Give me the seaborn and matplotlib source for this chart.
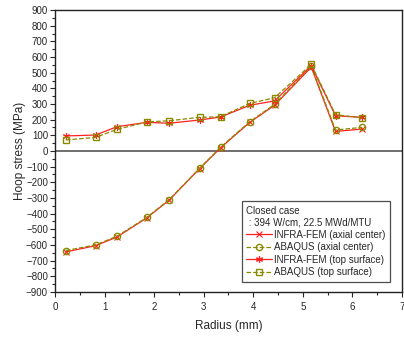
import numpy as np
import pandas as pd
import matplotlib
matplotlib.use('Agg')
import matplotlib.pyplot as plt
from matplotlib.ticker import MultipleLocator
import seaborn as sns

# ── Data ──────────────────────────────────────────────────────────────────────
radius = [0.22, 0.82, 1.25, 1.85, 2.30, 2.92, 3.34, 3.93, 4.43, 5.17, 5.66, 6.20]

infra_axial  = [-645, -605, -550, -428, -315, -112, 20, 183, 292, 535, 125, 140]
abaqus_axial = [-636, -600, -545, -425, -312, -110, 24, 187, 298, 542, 134, 151]
infra_top    = [96, 102, 155, 183, 177, 198, 217, 292, 320, 545, 225, 215]
abaqus_top   = [70, 87, 138, 185, 193, 215, 219, 304, 340, 553, 232, 211]

series_names = ['INFRA-FEM (axial center)', 'ABAQUS (axial center)',
                'INFRA-FEM (top surface)', 'ABAQUS (top surface)']
series_vals  = [infra_axial, abaqus_axial, infra_top, abaqus_top]

RED   = '#ff2020'
OLIVE = '#8a8a00'
styles = {
    'INFRA-FEM (axial center)': dict(color=RED,   marker='x', linestyle='-',  ms=4.5, mew=0.8),
    'ABAQUS (axial center)':    dict(color=OLIVE, marker='o', linestyle='--', ms=4.5, mew=1.0),
    'INFRA-FEM (top surface)':  dict(color=RED,   marker=(6, 2, 0), linestyle='-', ms=5, mew=0.8),
    'ABAQUS (top surface)':     dict(color=OLIVE, marker='s', linestyle='--', ms=4.5, mew=1.0),
}

df = pd.concat([pd.DataFrame({'Radius': radius, 'Stress': v, 'Series': n})
                for n, v in zip(series_names, series_vals)], ignore_index=True)

sns.set_style('ticks')
plt.rcParams['font.family'] = ['Liberation Sans', 'DejaVu Sans']

fig = plt.figure(figsize=(4.04, 3.37), dpi=100)
ax = fig.add_axes([0.136, 0.134, 0.859, 0.836])

for name in series_names:
    st = styles[name]
    sub = df[df['Series'] == name]
    sns.lineplot(data=sub, x='Radius', y='Stress', ax=ax, sort=False,
                 color=st['color'], linestyle=st['linestyle'], linewidth=0.9,
                 dashes=False if st['linestyle'] == '-' else (3, 1.5),
                 marker=st['marker'], markersize=st['ms'],
                 markerfacecolor='none', markeredgecolor=st['color'],
                 markeredgewidth=st['mew'], label=name)

ax.axhline(0, color='#555555', lw=1.2, zorder=0)

ax.set_xlim(0, 7)
ax.set_ylim(-900, 900)
ax.xaxis.set_major_locator(MultipleLocator(1))
ax.xaxis.set_minor_locator(MultipleLocator(0.5))
ax.yaxis.set_major_locator(MultipleLocator(100))
ax.yaxis.set_minor_locator(MultipleLocator(50))
ax.tick_params(which='major', length=3.5, width=0.8, labelsize=7, direction='out')
ax.tick_params(which='minor', length=2, width=0.8, direction='out')
ax.tick_params(axis='y', pad=1.5)
for s in ax.spines.values():
    s.set_linewidth(1.0)
    s.set_color('#222222')

ax.set_xlabel('Radius (mm)', fontsize=8.5, labelpad=6)
ax.set_ylabel('Hoop stress (MPa)', fontsize=8.5, labelpad=0)

leg = ax.legend(title='Closed case\n : 394 W/cm, 22.5 MWd/MTU', loc='lower right',
                bbox_to_anchor=(0.965, 0.035), borderaxespad=0,
                fontsize=7, title_fontsize=7,
                frameon=True, fancybox=False, edgecolor='#222222',
                handlelength=2.6, handletextpad=0.2, labelspacing=0.25,
                borderpad=0.5)
leg.get_frame().set_linewidth(0.9)
leg._legend_box.align = 'left'

fig.savefig('out.png', dpi=100)
